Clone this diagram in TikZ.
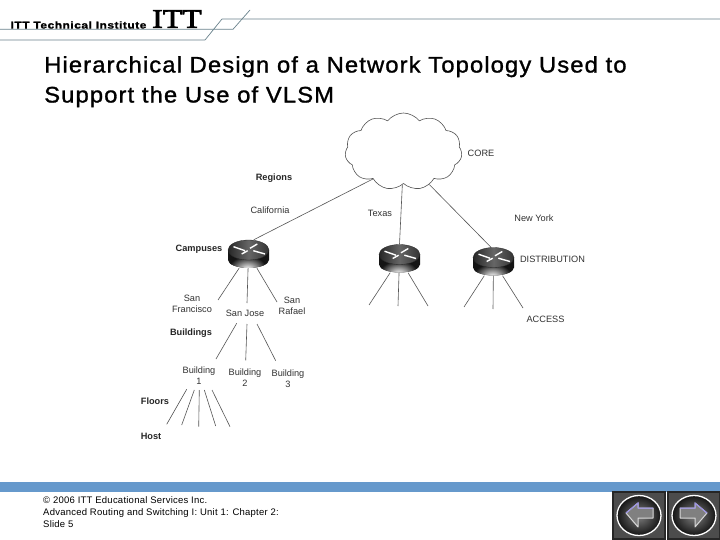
\documentclass[tikz,border=0pt]{standalone}
\usepackage{fontspec}
\setmainfont{Liberation Sans}
\newfontfamily\logofont[FakeBold=3,FakeStretch=1.18]{Liberation Serif}
\newfontfamily\brandfont[LetterSpace=5,FakeBold=1.2,FakeStretch=1.2]{Liberation Sans}
\newfontfamily\titlefont[LetterSpace=4.8,FakeBold=1.2,FakeStretch=1.06]{Liberation Sans}
\newfontfamily\footfont[LetterSpace=2.5]{Liberation Sans}
\usetikzlibrary{shapes.symbols}
\definecolor{barBlue}{RGB}{102,153,204}
\definecolor{ruleSlate}{RGB}{105,130,140}
\definecolor{wireGray}{RGB}{85,85,85}
\definecolor{labelGray}{RGB}{50,50,50}
\definecolor{navPurple}{RGB}{150,140,230}
\tikzset{
  wire/.style={draw=wireGray,line width=0.6pt},
  headrule/.style={draw=ruleSlate,line width=0.7pt},
  lab/.style={font=\fontsize{9.2}{11}\selectfont,text=labelGray,align=center,inner sep=0pt},
  tier/.style={lab,font=\fontsize{9.2}{11}\selectfont\bfseries,text=black!85},
  routerbox/.style={minimum width=41pt,minimum height=28pt,inner sep=0pt},
  router/.pic={
    \fill[black!92] (-20.5,-4) -- (-20.5,6) arc[start angle=180,end angle=0,x radius=20.5,y radius=8] -- (20.5,-4) -- cycle;
    \begin{scope}
      \clip (-20.5,-4) -- (-20.5,6) arc[start angle=180,end angle=0,x radius=20.5,y radius=8] -- (20.5,-4) -- cycle;
      \shade[inner color=white!90,outer color=black!92] (-1,15) ellipse[x radius=19,y radius=13];
    \end{scope}
    \shade[left color=black!85,right color=black!80,middle color=black!60,draw=black!85,line width=0.3pt]
      (0,-4) ellipse[x radius=20.5,y radius=10];
    \draw[white,line width=1.4pt] (-15,-7.3) -- (-3.5,-3.3) (4.8,-3.3) -- (16.5,0)
      (1.5,-5.7) -- (8.8,-10) (-6.8,0) -- (-0.8,-3.3);
  },
  navbtn/.pic={
    \fill[black!85] (-27,-24.5) rectangle (27,24.5);
    \shade[inner color=black!55,outer color=black!70] (-25,-22) rectangle (25,22);
    \shade[inner color=black!50,outer color=black!92,draw=white!90,line width=1.3pt]
      (0,0) ellipse[x radius=22,y radius=20];
  }
}
\begin{document}
\begin{tikzpicture}[x=1pt,y=-1pt]
\useasboundingbox[fill=white] (0,0) rectangle (720,540);
% header
\draw[headrule] (0,29.3) -- (233,29.3) -- (250,10);
\draw[headrule] (0,40) -- (205,40) -- (222,19) -- (720,19);
\node[inner sep=0pt,font=\fontsize{10}{10}\selectfont\bfseries\brandfont] (brand) at (78.5,25) {ITT Technical Institute};
\node[inner sep=0pt,font=\fontsize{27}{27}\selectfont\logofont] (logo) at (177,19) {ITT};
% title
\node[anchor=north west,inner sep=0pt,align=left,font=\fontsize{22.5}{30}\selectfont\titlefont] (title) at (44,56)
  {Hierarchical Design of a Network Topology Used to\\Support the Use of VLSM};
% core and routers
\node[cloud,cloud puffs=11,cloud puff arc=105,aspect=1.5,draw=wireGray,line width=0.6pt,inner sep=0pt,minimum width=117pt,minimum height=77pt] (core) at (403.5,151.5) {};
\node[routerbox] (rCal) at (248.5,254) {};
\node[routerbox] (rTex) at (399.5,258.5) {};
\node[routerbox] (rNY) at (493.5,261.5) {};
\draw[wire] (core.222) -- (rCal.70);
\draw[wire] (core.268) -- (rTex.north);
\draw[wire] (core.308) -- (rNY.100);
% free ends
\coordinate (aF) at (218,300);
\coordinate (aJ) at (247,303);
\coordinate (aR) at (277,302);
\coordinate (bL) at (369,305);
\coordinate (bM) at (398,306);
\coordinate (bR) at (428,306);
\coordinate (cL) at (464,307);
\coordinate (cM) at (493,309);
\coordinate (cR) at (523,308);
\foreach \leaf in {aF,aJ,aR} \draw[wire] (rCal) -- (\leaf);
\foreach \leaf in {bL,bM,bR} \draw[wire] (rTex) -- (\leaf);
\foreach \leaf in {cL,cM,cR} \draw[wire] (rNY) -- (\leaf);
\pic at (rCal) {router};
\pic at (rTex) {router};
\pic at (rNY) {router};
% labels
\node[lab] (coreLab) at (481,153) {CORE};
\node[lab] (calLab) at (270,210) {California};
\node[lab] (texLab) at (380,213) {Texas};
\node[lab] (nyLab) at (534,218) {New York};
\node[lab] (distLab) at (552.5,259) {DISTRIBUTION};
\node[lab] (accLab) at (545.5,319) {ACCESS};
\node[lab] (sfLab) at (192,304) {San\\Francisco};
\node[lab] (sjLab) at (245,313) {San Jose};
\node[lab] (srLab) at (292,306) {San\\Rafael};
\node[lab] (b1Lab) at (199,376) {Building\\1};
\node[lab] (b2Lab) at (245,378) {Building\\2};
\node[lab] (b3Lab) at (288,379) {Building\\3};
\node[tier] (regLab) at (274,178.5) {Regions};
\node[tier] (camLab) at (199,249) {Campuses};
\node[tier] (bldLab) at (191,333) {Buildings};
\node[tier] (flrLab) at (155,401) {Floors};
\node[tier] (hstLab) at (151,436) {Host};
% campus and building fans
\coordinate (jA) at (236.7,323.3);
\coordinate (jAe) at (216,359);
\coordinate (jB) at (247,324);
\coordinate (jBe) at (245.7,360.3);
\coordinate (jC) at (257,324);
\coordinate (jCe) at (275.7,360.7);
\draw[wire] (jA) -- (jAe);
\draw[wire] (jB) -- (jBe);
\draw[wire] (jC) -- (jCe);
\coordinate (fA) at (186.7,389.3);
\coordinate (fAe) at (166.7,424.3);
\coordinate (fB) at (194.3,390);
\coordinate (fBe) at (181.7,425);
\coordinate (fC) at (199.3,390);
\coordinate (fCe) at (198.7,426.7);
\coordinate (fD) at (204.3,390);
\coordinate (fDe) at (215.7,426);
\coordinate (fE) at (212,390);
\coordinate (fEe) at (230,426.7);
\foreach \fl in {fA,fB,fC,fD,fE} \draw[wire] (\fl) -- (\fl e);
% footer
\fill[barBlue] (0,482) rectangle (720,492);
\node[anchor=north west,inner sep=0pt,align=left,font=\fontsize{9.5}{12.3}\selectfont\footfont] (foot) at (43,496)
  {© 2006 ITT Educational Services Inc.\\Advanced Routing and Switching I: Unit 1: Chapter 2:\\Slide 5};
\pic at (639,515.5) {navbtn};
\pic at (694,515.5) {navbtn};
\draw[black!15,line width=1pt,fill=black!50,line join=round] (626,513) -- (638,503) -- (638,508) -- (653,508) -- (653,518) -- (638,518) -- (638,527) -- cycle;
\draw[navPurple,line width=1pt] (626,513) -- (638,503) -- (638,508) -- (653,508);
\draw[black!15,line width=1pt,fill=black!50,line join=round] (707,513) -- (695,503) -- (695,508) -- (680,508) -- (680,518) -- (695,518) -- (695,527) -- cycle;
\draw[navPurple,line width=1pt] (680,508) -- (695,508) -- (695,503) -- (707,513);
\end{tikzpicture}
\end{document}
